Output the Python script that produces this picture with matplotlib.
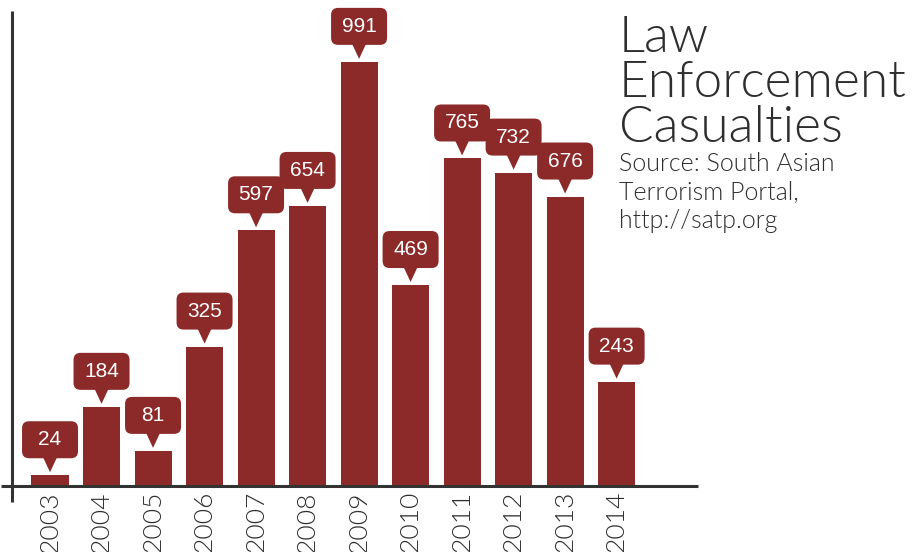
import numpy as np
import matplotlib
matplotlib.use("Agg")
import matplotlib.pyplot as plt
import matplotlib.transforms as mtransforms
from matplotlib.patches import FancyBboxPatch, Polygon

years = ['2003', '2004', '2005', '2006', '2007', '2008',
         '2009', '2010', '2011', '2012', '2013', '2014']
casualties = [24, 184, 81, 325, 597, 654, 991, 469, 765, 732, 676, 243]

title_lines = ['Law', 'Enforcement', 'Casualties']
source_lines = ['Source: South Asian', 'Terrorism Portal,', 'http://satp.org']

bar_color = '#8c2a2a'
ink = '#2e2e2e'
geo_font = ['Lato', 'DejaVu Sans']

W, H = 920, 552
fig = plt.figure(figsize=(W / 100, H / 100), dpi=100)
# axes box in pixels: left 11.5, right 698, bottom line at y=485.5, top at y=11
ax = fig.add_axes([11.5 / W, (H - 485.5) / H, (698 - 11.5) / W, (485.5 - 11) / H])

x = np.arange(len(years))
ax.bar(x, casualties, width=0.72, color=bar_color, zorder=2)
ax.set_xlim(-0.748, 12.58)
ax.set_ylim(0, 1110)

for s in ax.spines.values():
    s.set_visible(False)
ax.set_yticks([])
ax.set_xticks(x)
ax.set_xticklabels(years, rotation=90, fontsize=19, family=geo_font,
                   fontweight=300, color=ink)
ax.tick_params(axis='x', length=0, pad=4)

# axis lines, crossing at the corner
ax.plot([0, 0], [-16 / 474.5, 1], transform=ax.transAxes, color='#333333',
        lw=2.2, clip_on=False, solid_capstyle='butt', zorder=3)
ax.plot([-11 / 686.5, 1], [0, 0], transform=ax.transAxes, color='#333333',
        lw=2.2, clip_on=False, solid_capstyle='butt', zorder=3)

# callout boxes (geometry in pixels, anchored at each bar top)
for xi, v in zip(x, casualties):
    tr = mtransforms.ScaledTranslation(xi, v, ax.transData)
    tri = Polygon([(-7, 18), (7, 18), (0, 3)], closed=True, transform=tr,
                  facecolor=bar_color, edgecolor='none', clip_on=False, zorder=4)
    box = FancyBboxPatch((-28 + 7, 17 + 7), 56 - 14, 37 - 14,
                         boxstyle='round,pad=7', transform=tr,
                         facecolor=bar_color, edgecolor='none',
                         clip_on=False, zorder=4)
    fig.add_artist(tri)
    fig.add_artist(box)
    fig.text(0, 35.5, str(v), transform=tr, ha='center', va='center',
             color='white', fontsize=15, family='Liberation Sans', zorder=5)

# title and source
for i, line in enumerate(title_lines):
    fig.text(619 / W, 1 - (52 + 45 * i) / H, line, ha='left', va='baseline',
             fontsize=37, family=geo_font, fontweight=300, color=ink)
for i, line in enumerate(source_lines):
    fig.text(619 / W, 1 - (171 + 28.5 * i) / H, line, ha='left', va='baseline',
             fontsize=18, family=geo_font, fontweight=300, color=ink)

fig.savefig('out.png', dpi=100)
